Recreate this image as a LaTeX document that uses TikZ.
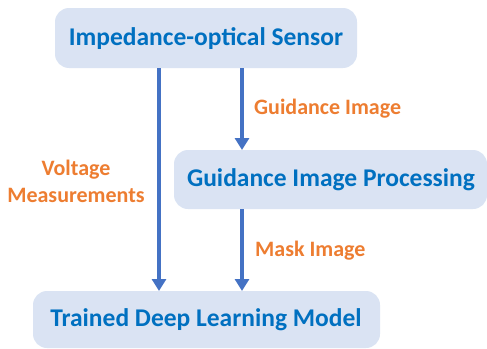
\documentclass[tikz,border=0pt]{standalone}
\usepackage{fontspec}
\setmainfont{Carlito}
\usetikzlibrary{arrows.meta}
\definecolor{boxfill}{HTML}{DAE3F3}
\definecolor{boxtext}{HTML}{0070C0}
\definecolor{arrowcol}{HTML}{4472C4}
\definecolor{labelcol}{HTML}{ED7D31}
\tikzset{
  box/.style={fill=boxfill, rounded corners=14pt, inner sep=0pt},
  boxlabel/.style={text=boxtext, font=\bfseries\fontsize{25.5}{30}\selectfont, inner sep=0pt},
  flow/.style={draw=arrowcol, line width=3.5pt, -{Triangle[length=12pt,width=14pt]}},
  edgelabel/.style={text=labelcol, font=\bfseries\fontsize{22}{27}\selectfont, inner sep=0pt, align=center},
}
\begin{document}
\begin{tikzpicture}[x=1pt,y=-1pt]
\useasboundingbox (0,0) rectangle (487,348);
\fill[box] (55,8) rectangle (357,68);
\fill[box] (174,150) rectangle (487,209);
\fill[box] (33,291) rectangle (380,348);
\node[boxlabel] (sensor) at (206,39) {Impedance-optical Sensor};
\node[boxlabel] (proc) at (331,180) {Guidance Image Processing};
\node[boxlabel] (model) at (206,320) {Trained Deep Learning Model};
\coordinate (s1) at (159,68);
\coordinate (s2) at (242,68);
\coordinate (p1) at (242,150);
\coordinate (p2) at (242,209);
\coordinate (m1) at (159,291);
\coordinate (m2) at (242,291);
\draw[flow] (s1) -- (m1);
\draw[flow] (s2) -- (p1);
\draw[flow] (p2) -- (m2);
\node[edgelabel, anchor=west] (gl) at (254,109) {Guidance Image};
\node[edgelabel] (vl) at (76,181) {Voltage\\Measurements};
\node[edgelabel, anchor=west] (ml) at (255,251) {Mask Image};
\end{tikzpicture}
\end{document}
